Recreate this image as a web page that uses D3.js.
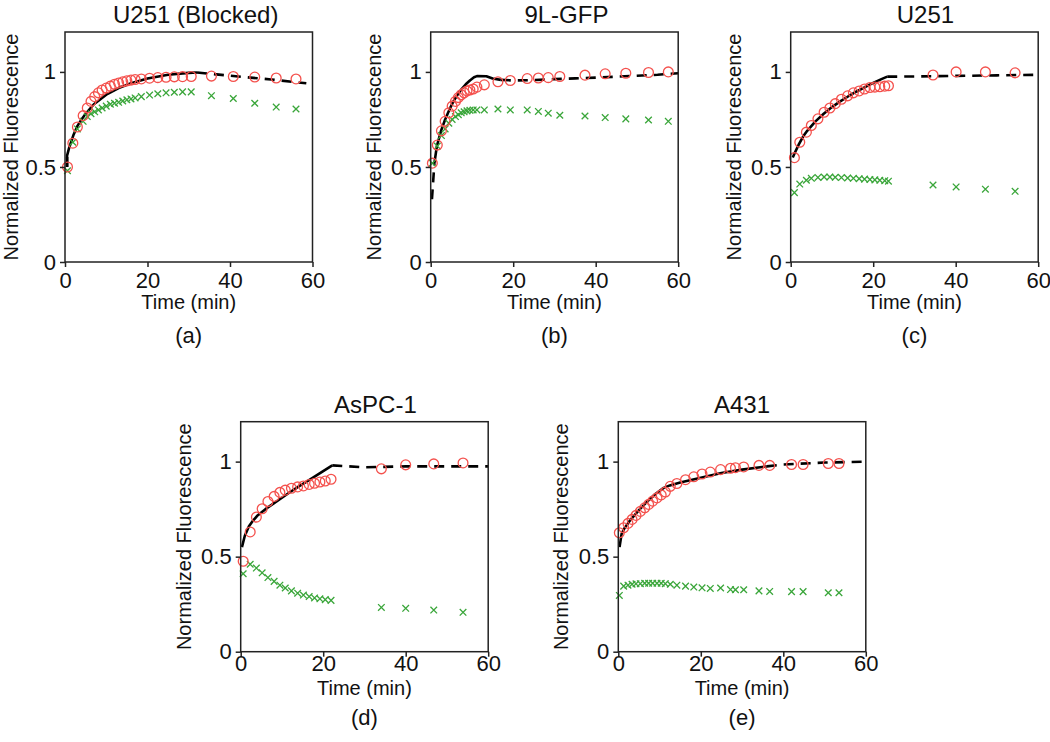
<!DOCTYPE html>
<html>
<head>
<meta charset="utf-8">
<script src="https://cdn.jsdelivr.net/npm/d3@7"></script>
<style>
  html, body { margin: 0; padding: 0; background: #fff; }
  svg { display: block; }
  text { font-family: "Liberation Sans", Arial, sans-serif; fill: #111; }
</style>
</head>
<body>
<svg id="chart" width="1050" height="742"></svg>
<script>
// ---------------- DATA ----------------
const panelTitles = ["U251 (Blocked)", "9L-GFP", "U251", "AsPC-1", "A431"];
const panelLetters = ["(a)", "(b)", "(c)", "(d)", "(e)"];
const xTicks = [0, 20, 40, 60];
const yTicks = [0, 0.5, 1];
const xLabel = "Time (min)";
const yLabel = "Normalized Fluorescence";

// (a) U251 (Blocked)
const timeA  = [0.6,1.9,3.0,4.4,5.4,6.3,7.2,8.1,9.0,10.0,11.0,12.0,13.0,14.0,15.0,16.0,17.0,18.5,20.5,22.5,24.5,26.5,28.5,30.6,35.5,40.8,46.0,51.2,56.0];
const redA   = [0.50,0.625,0.71,0.77,0.81,0.845,0.87,0.89,0.905,0.915,0.925,0.935,0.942,0.948,0.953,0.957,0.96,0.963,0.967,0.97,0.972,0.974,0.975,0.976,0.978,0.976,0.973,0.968,0.963];
const greenA = [0.48,0.63,0.70,0.74,0.765,0.78,0.79,0.80,0.81,0.82,0.83,0.835,0.84,0.847,0.853,0.858,0.863,0.87,0.878,0.885,0.89,0.893,0.895,0.895,0.875,0.86,0.835,0.815,0.805];
const fitTA  = [0.5,0.5,1,2,3,4,5,7,10,13,16,20,25,30,32,40,50,58.5];
const fitYA  = [0.50,0.56,0.60,0.665,0.715,0.75,0.78,0.83,0.88,0.915,0.94,0.965,0.985,0.995,0.997,0.98,0.96,0.94];
const solidA = [0.5, 32];

// (b) 9L-GFP
const timeB  = [0.4,1.6,2.6,3.5,4.4,5.2,6.0,6.7,7.4,8.1,8.8,9.5,10.3,11.2,13.0,16.3,19.3,23.4,26.1,28.5,31.3,37.4,42.3,47.3,52.8,57.6];
const redB   = [0.52,0.615,0.69,0.74,0.785,0.82,0.845,0.865,0.88,0.89,0.9,0.905,0.91,0.92,0.932,0.948,0.955,0.965,0.968,0.97,0.976,0.983,0.99,0.993,0.997,1.0];
const greenB = [0.52,0.61,0.665,0.70,0.73,0.75,0.765,0.775,0.785,0.79,0.795,0.798,0.80,0.80,0.80,0.805,0.80,0.80,0.792,0.783,0.772,0.768,0.76,0.753,0.747,0.74];
const fitTB  = [0.3,0.9,1.5,2.5,3.5,4.5,5.5,6.5,7.5,8.5,9.5,10.5,11.2,13.5,15,17,20,25,30,35,40,45,50,55,60];
const fitYB  = [0.33,0.52,0.61,0.69,0.75,0.80,0.845,0.88,0.91,0.935,0.955,0.972,0.978,0.977,0.965,0.958,0.955,0.957,0.962,0.966,0.97,0.975,0.98,0.985,0.993];
const solidB = [0.9, 17];

// (c) U251
const timeC  = [0.9,2.2,3.8,5.0,6.6,8.1,9.5,10.8,12.3,13.8,15.2,16.6,17.9,19.2,20.4,21.6,22.8,23.7,34.5,40.1,47.2,54.4];
const redC   = [0.549,0.63,0.683,0.718,0.753,0.788,0.81,0.833,0.856,0.874,0.89,0.90,0.91,0.918,0.92,0.922,0.925,0.927,0.984,1.0,1.0,0.995];
const greenC = [0.365,0.41,0.43,0.44,0.445,0.447,0.447,0.446,0.444,0.442,0.44,0.438,0.436,0.434,0.432,0.43,0.428,0.425,0.405,0.395,0.383,0.372];
const fitTC  = [0.5,1,2,3,4,6,8,10,12,14,16,18,20,22,23.4,30,40,50,60];
const fitYC  = [0.55,0.575,0.62,0.66,0.69,0.74,0.78,0.815,0.845,0.872,0.897,0.92,0.942,0.962,0.975,0.976,0.979,0.982,0.985];
const solidC = [0.5, 23.4];

// (d) AsPC-1
const timeD  = [0.6,2.3,3.8,5.2,6.6,8.1,9.5,10.8,12.3,13.8,15.2,16.6,17.9,19.2,20.5,21.9,34.1,40.0,46.8,53.9];
const redD   = [0.476,0.63,0.708,0.752,0.79,0.817,0.838,0.85,0.86,0.867,0.872,0.88,0.886,0.893,0.898,0.907,0.962,0.983,0.988,0.993];
const greenD = [0.41,0.46,0.44,0.415,0.39,0.37,0.35,0.335,0.32,0.308,0.298,0.29,0.283,0.278,0.274,0.27,0.233,0.228,0.219,0.207];
const fitTD  = [0.3,1,2,3,4,6,8,10,12,14,16,18,20,22.2,30,40,50,60];
const fitYD  = [0.55,0.61,0.66,0.69,0.715,0.75,0.78,0.81,0.84,0.868,0.895,0.922,0.95,0.98,0.97,0.975,0.975,0.975];
const solidD = [0.3, 22.2];

// (e) A431
const timeE  = [0.25,1.3,2.35,3.33,4.29,5.34,6.4,7.36,8.33,9.38,10.4,11.4,12.6,14.2,16.3,18.3,20.3,22.3,24.8,27.2,28.4,30.4,34.1,36.7,42.0,44.8,50.9,53.5];
const redE   = [0.626,0.652,0.675,0.696,0.717,0.738,0.757,0.775,0.792,0.809,0.825,0.84,0.87,0.885,0.905,0.92,0.935,0.945,0.958,0.965,0.968,0.972,0.98,0.98,0.985,0.985,0.99,0.99];
const greenE = [0.296,0.345,0.35,0.355,0.357,0.358,0.36,0.36,0.36,0.36,0.36,0.358,0.355,0.35,0.345,0.34,0.336,0.333,0.335,0.327,0.326,0.326,0.32,0.317,0.316,0.316,0.31,0.31];
const fitTE  = [0.3,0.8,1.5,3,5,7,9,11,12.5,15,20,25,30,36,40,50,60];
const fitYE  = [0.55,0.62,0.65,0.695,0.745,0.79,0.83,0.862,0.875,0.89,0.915,0.94,0.958,0.975,0.985,0.995,1.0];
const solidE = [0.3, 36];

// ---------------- LAYOUT ----------------
const layout = [
  { left: 65,    bottom: 262,   titleDx: 7,  yLabDx: -47, tickPad: 5,  xLabDy: 47, letterDy: 81 },
  { left: 430.7, bottom: 262,   titleDx: 12, yLabDx: -50, tickPad: 5,  xLabDy: 47, letterDy: 81 },
  { left: 790.7, bottom: 262,   titleDx: 11, yLabDx: -50, tickPad: 5,  xLabDy: 47, letterDy: 81 },
  { left: 240.7, bottom: 651.7, titleDx: 11, yLabDx: -50, tickPad: -1, xLabDy: 43, letterDy: 73 },
  { left: 618.3, bottom: 651.7, titleDx: 0,  yLabDx: -50, tickPad: -1, xLabDy: 43, letterDy: 73 }
];
const PW = 247.5, PH = 230;
const yMax = 1.21;

const series = [
  [timeA, redA, greenA, fitTA, fitYA, solidA],
  [timeB, redB, greenB, fitTB, fitYB, solidB],
  [timeC, redC, greenC, fitTC, fitYC, solidC],
  [timeD, redD, greenD, fitTD, fitYD, solidD],
  [timeE, redE, greenE, fitTE, fitYE, solidE]
];

const svg = d3.select("#chart");
const RED = "#f4514d", GREEN = "#3aa63a";

series.forEach((s, i) => {
  const [t, red, green, ft, fy, solid] = s;
  const L = layout[i];
  const x = d3.scaleLinear().domain([0, 60]).range([L.left, L.left + PW]);
  const y = d3.scaleLinear().domain([0, yMax]).range([L.bottom, L.bottom - PH]);
  const g = svg.append("g");

  // fit line: dashed / solid / dashed parts
  const pts = ft.map((tt, k) => ({ t: tt, v: fy[k] }));
  const line = d3.line().x(d => x(d.t)).y(d => y(d.v));
  const before = pts.filter(d => d.t <= solid[0]);
  const mid = pts.filter(d => d.t >= solid[0] && d.t <= solid[1]);
  const after = pts.filter(d => d.t >= solid[1]);
  if (before.length > 1) g.append("path").attr("d", line(before)).attr("fill", "none")
    .attr("stroke", "#000").attr("stroke-width", 2.6).attr("stroke-dasharray", "10,7");
  g.append("path").attr("d", line(mid)).attr("fill", "none")
    .attr("stroke", "#000").attr("stroke-width", 2.6).attr("stroke-linejoin", "round");
  g.append("path").attr("d", line(after)).attr("fill", "none")
    .attr("stroke", "#000").attr("stroke-width", 2.6).attr("stroke-dasharray", "10,7");

  // green crosses
  const cs = 3.3;
  g.selectAll("path.x").data(t.map((tt, k) => ({ t: tt, v: green[k] }))).join("path")
    .attr("class", "x")
    .attr("d", d => {
      const cx = x(d.t), cy = y(d.v);
      return `M${cx - cs},${cy - cs}L${cx + cs},${cy + cs}M${cx - cs},${cy + cs}L${cx + cs},${cy - cs}`;
    })
    .attr("stroke", GREEN).attr("stroke-width", 1.3).attr("fill", "none");

  // red circles
  g.selectAll("circle").data(t.map((tt, k) => ({ t: tt, v: red[k] }))).join("circle")
    .attr("cx", d => x(d.t)).attr("cy", d => y(d.v)).attr("r", 4.9)
    .attr("fill", "none").attr("stroke", RED).attr("stroke-width", 1.3);

  // frame
  g.append("rect").attr("x", L.left).attr("y", L.bottom - PH).attr("width", PW).attr("height", PH)
    .attr("fill", "none").attr("stroke", "#222").attr("stroke-width", 1.5);

  // axes
  const ax = g.append("g").attr("transform", `translate(0,${L.bottom})`)
    .call(d3.axisBottom(x).tickValues(xTicks).tickSize(5).tickSizeOuter(0).tickPadding(L.tickPad));
  const ay = g.append("g").attr("transform", `translate(${L.left},0)`)
    .call(d3.axisLeft(y).tickValues(yTicks).tickSize(5).tickSizeOuter(0).tickPadding(4).tickFormat(d3.format("")));
  [ax, ay].forEach(a => {
    a.select(".domain").remove();
    a.selectAll("line").attr("stroke", "#222").attr("stroke-width", 1.5);
    a.selectAll("text").attr("font-size", 22).attr("font-family", "'Liberation Sans', Arial, sans-serif").attr("fill", "#111");
  });

  const cx = L.left + PW / 2;
  g.append("text").attr("x", cx + L.titleDx).attr("y", L.bottom - PH - 9)
    .attr("text-anchor", "middle").attr("font-size", 24).text(panelTitles[i]);
  g.append("text").attr("x", cx).attr("y", L.bottom + L.xLabDy)
    .attr("text-anchor", "middle").attr("font-size", 20).text(xLabel);
  g.append("text").attr("x", cx).attr("y", L.bottom + L.letterDy)
    .attr("text-anchor", "middle").attr("font-size", 22).text(panelLetters[i]);
  g.append("text")
    .attr("transform", `translate(${L.left + L.yLabDx},${L.bottom - PH / 2}) rotate(-90)`)
    .attr("text-anchor", "middle").attr("font-size", 20).text(yLabel);
});
</script>
</body>
</html>
